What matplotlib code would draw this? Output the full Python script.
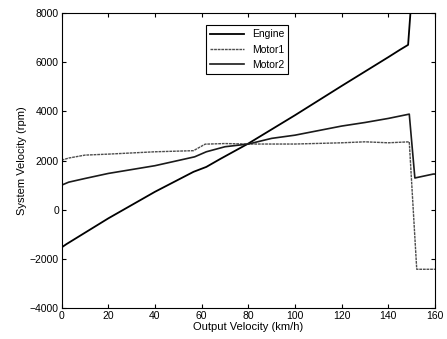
import matplotlib
matplotlib.use('Agg')
import matplotlib.pyplot as plt

plt.rcParams['font.family'] = ['Liberation Sans', 'DejaVu Sans']

# readings from the reference (km/h -> rpm)
engine_x = [0, 2, 20, 40, 56.5, 62, 68, 80, 100, 120, 140, 145, 148.5, 149.5, 150]
engine_y = [-1530, -1400, -350, 730, 1540, 1740, 2065, 2690, 3840, 5030, 6200, 6500, 6700, 8000, 9000]

motor1_x = [0, 3, 10, 20, 40, 56.5, 61.5, 70, 80, 100, 120, 130, 140, 149, 152.2, 160]
motor1_y = [2015, 2100, 2220, 2260, 2355, 2400, 2665, 2690, 2670, 2670, 2720, 2760, 2720, 2760, -2420, -2420]

motor2_x = [0, 3, 10, 20, 40, 57, 62, 70, 80, 90, 100, 120, 130, 140, 149, 151.4, 159.3, 160]
motor2_y = [1000, 1120, 1270, 1475, 1790, 2150, 2355, 2560, 2670, 2900, 3030, 3400, 3545, 3710, 3885, 1290, 1450, 1450]

xticks = list(range(0, 161, 20))
yticks = list(range(-4000, 8001, 2000))

fig = plt.figure(figsize=(4.47, 3.39), dpi=100)
ax = fig.add_axes([0.138, 0.091, 0.835, 0.871])

ax.plot(engine_x, engine_y, color='black', lw=1.3, label='Engine')
ax.plot(motor1_x, motor1_y, color='0.3', lw=1.0, ls=(0, (2, 0.6)), label='Motor1')
ax.plot(motor2_x, motor2_y, color='0.1', lw=1.2, label='Motor2')

ax.set_xlim(0, 160)
ax.set_ylim(-4000, 8000)
ax.set_xticks(xticks)
ax.set_yticks(yticks)
ax.tick_params(direction='in', top=True, right=True, labelsize=7.5, length=3, pad=2)
for s in ax.spines.values():
    s.set_linewidth(0.8)

ax.set_xlabel('Output Velocity (km/h)', fontsize=8, labelpad=1)
ax.set_ylabel('System Velocity (rpm)', fontsize=8, labelpad=2)

leg = ax.legend(loc='upper left', bbox_to_anchor=(0.373, 0.976), fontsize=7.5,
                fancybox=False, edgecolor='black', framealpha=1,
                handlelength=3.2, borderpad=0.4, labelspacing=0.5)
leg.get_frame().set_linewidth(0.8)

plt.savefig('out.png', dpi=100)
